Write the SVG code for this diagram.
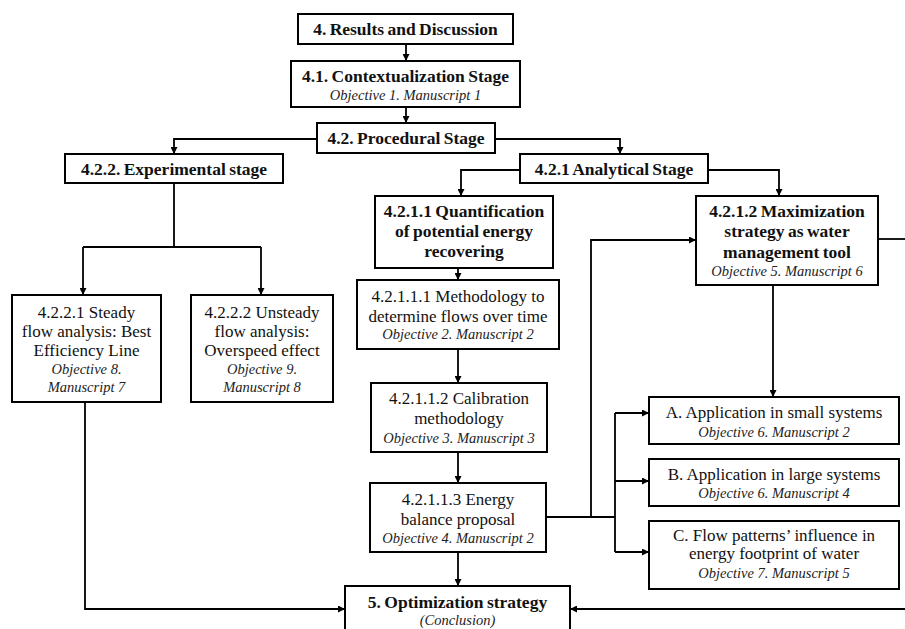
<svg xmlns="http://www.w3.org/2000/svg" width="905" height="629" viewBox="0 0 905 629">
  <defs>
    <marker id="arrow" markerWidth="7" markerHeight="7" refX="7" refY="3.5" orient="auto" markerUnits="userSpaceOnUse">
      <path d="M0,0 L7,3.5 L0,7 z" fill="#000"/>
    </marker>
    <style>
      .box { fill: #fff; stroke: #000; stroke-width: 2; }
      .t { font-family: "Liberation Serif", "Times New Roman", serif; fill: #111; text-anchor: middle; }
      .b { font-size: 17.5px; font-weight: bold; word-spacing: -1px; }
      .r { font-size: 17px; }
      .i { font-size: 14.5px; font-style: italic; fill: #222; }
      .c { fill: none; stroke: #000; stroke-width: 1.8; }
      .a { marker-end: url(#arrow); }
    </style>
  </defs>
  <rect width="905" height="629" fill="#fff"/>

  <!-- connectors -->
  <g id="connectors">
    <path class="c a" d="M406,44 V61"/>
    <path class="c a" d="M406,107 V123"/>
    <path class="c a" d="M317,139 H174 V154"/>
    <path class="c a" d="M495,139 H620 V154"/>
    <path class="c" d="M174,183 V247 M83,247 H261"/>
    <path class="c a" d="M83,247 V295"/>
    <path class="c a" d="M261,247 V295"/>
    <path class="c a" d="M520,170 H461 V196"/>
    <path class="c a" d="M708,170 H779 V196"/>
    <path class="c a" d="M458,268 V280"/>
    <path class="c a" d="M458,349 V383"/>
    <path class="c a" d="M458,452 V483"/>
    <path class="c a" d="M458,552 V586"/>
    <path class="c" d="M546,517 H615 M615,413 V552"/>
    <path class="c a" d="M591,517 V240 H696"/>
    <path class="c a" d="M615,413 H649"/>
    <path class="c a" d="M615,481 H649"/>
    <path class="c a" d="M615,552 H649"/>
    <path class="c a" d="M773,285 V397"/>
    <path class="c" d="M878,239 H905"/>
    <path class="c a" d="M905,609 H570"/>
    <path class="c a" d="M85,402 V609 H345"/>
  </g>

  <g id="results">
    <rect class="box" x="298" y="14" width="215" height="30"/>
    <text class="t b" x="405.5" y="35">4. Results and Discussion</text>
  </g>

  <g id="contextualization">
    <rect class="box" x="291" y="61" width="229" height="46"/>
    <text class="t b" x="405.5" y="82">4.1. Contextualization Stage</text>
    <text class="t i" x="405.5" y="100">Objective 1. Manuscript 1</text>
  </g>

  <g id="procedural">
    <rect class="box" x="317" y="123" width="178" height="30"/>
    <text class="t b" x="406" y="144">4.2. Procedural Stage</text>
  </g>

  <g id="experimental">
    <rect class="box" x="65" y="154" width="218" height="29"/>
    <text class="t b" x="174" y="175">4.2.2. Experimental stage</text>
  </g>

  <g id="analytical">
    <rect class="box" x="520" y="154" width="188" height="29"/>
    <text class="t b" x="614" y="175">4.2.1 Analytical Stage</text>
  </g>

  <g id="steady">
    <rect class="box" x="12" y="295" width="149" height="107"/>
    <text class="t r" x="86.5" y="318">4.2.2.1 Steady</text>
    <text class="t r" x="86.5" y="337">flow analysis: Best</text>
    <text class="t r" x="86.5" y="356">Efficiency Line</text>
    <text class="t i" x="86.5" y="374">Objective 8.</text>
    <text class="t i" x="86.5" y="392">Manuscript 7</text>
  </g>

  <g id="unsteady">
    <rect class="box" x="191" y="295" width="142" height="107"/>
    <text class="t r" x="262" y="318">4.2.2.2 Unsteady</text>
    <text class="t r" x="262" y="337">flow analysis:</text>
    <text class="t r" x="262" y="356">Overspeed effect</text>
    <text class="t i" x="262" y="374">Objective 9.</text>
    <text class="t i" x="262" y="392">Manuscript 8</text>
  </g>

  <g id="quantification">
    <rect class="box" x="375" y="196" width="178" height="72"/>
    <text class="t b" x="464" y="217">4.2.1.1 Quantification</text>
    <text class="t b" x="464" y="237">of potential energy</text>
    <text class="t b" x="464" y="257">recovering</text>
  </g>

  <g id="methodology">
    <rect class="box" x="357" y="280" width="202" height="69"/>
    <text class="t r" x="458" y="302">4.2.1.1.1 Methodology to</text>
    <text class="t r" x="458" y="322">determine flows over time</text>
    <text class="t i" x="458" y="339">Objective 2. Manuscript 2</text>
  </g>

  <g id="calibration">
    <rect class="box" x="371" y="383" width="176" height="69"/>
    <text class="t r" x="459" y="404">4.2.1.1.2 Calibration</text>
    <text class="t r" x="459" y="424">methodology</text>
    <text class="t i" x="459" y="443">Objective 3. Manuscript 3</text>
  </g>

  <g id="energy-balance">
    <rect class="box" x="370" y="483" width="176" height="69"/>
    <text class="t r" x="458" y="505">4.2.1.1.3 Energy</text>
    <text class="t r" x="458" y="525">balance proposal</text>
    <text class="t i" x="458" y="543">Objective 4. Manuscript 2</text>
  </g>

  <g id="maximization">
    <rect class="box" x="696" y="196" width="182" height="89"/>
    <text class="t b" x="787" y="217">4.2.1.2 Maximization</text>
    <text class="t b" x="787" y="237">strategy as water</text>
    <text class="t b" x="787" y="258">management tool</text>
    <text class="t i" x="787" y="276">Objective 5. Manuscript 6</text>
  </g>

  <g id="small-systems">
    <rect class="box" x="649" y="397" width="250" height="47"/>
    <text class="t r" x="774" y="418">A. Application in small systems</text>
    <text class="t i" x="774" y="437">Objective 6. Manuscript 2</text>
  </g>

  <g id="large-systems">
    <rect class="box" x="649" y="459" width="250" height="47"/>
    <text class="t r" x="774" y="480">B. Application in large systems</text>
    <text class="t i" x="774" y="498">Objective 6. Manuscript 4</text>
  </g>

  <g id="flow-patterns">
    <rect class="box" x="649" y="521" width="250" height="68"/>
    <text class="t r" x="774" y="541">C. Flow patterns’ influence in</text>
    <text class="t r" x="774" y="559">energy footprint of water</text>
    <text class="t i" x="774" y="578">Objective 7. Manuscript 5</text>
  </g>

  <g id="optimization">
    <rect class="box" x="345" y="586" width="225" height="60"/>
    <text class="t b" x="457.5" y="608">5. Optimization strategy</text>
    <text class="t i" x="457.5" y="625">(Conclusion)</text>
  </g>
</svg>
